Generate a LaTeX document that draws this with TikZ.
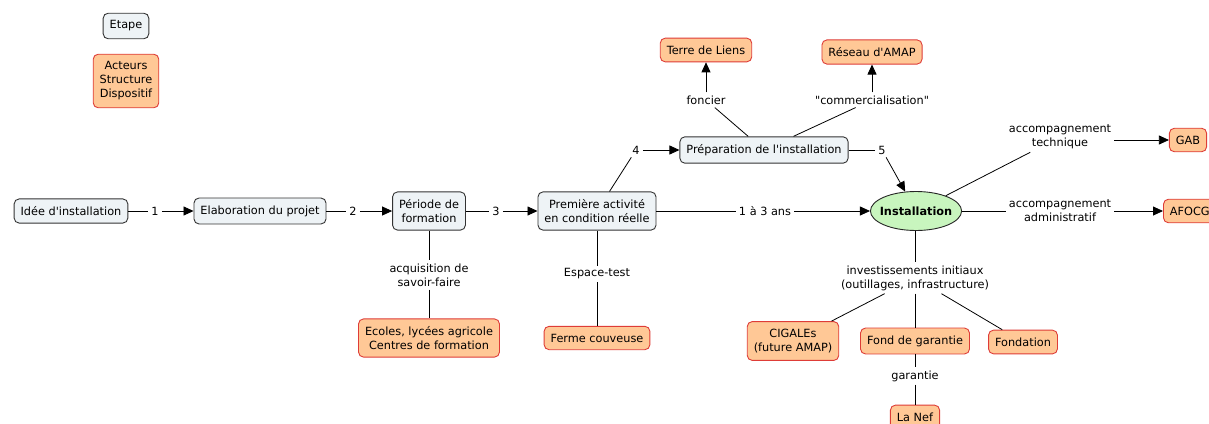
\documentclass[tikz,border=0pt]{standalone}
\usepackage{fontspec}
\setmainfont{DejaVu Sans}[Ligatures=TeXOff]
\usetikzlibrary{shapes.geometric,arrows.meta}
\definecolor{etapefill}{RGB}{238,243,246}
\definecolor{acteurfill}{RGB}{255,200,150}
\definecolor{acteurdraw}{RGB}{222,60,55}
\definecolor{installfill}{RGB}{200,245,190}

\begin{document}
\begin{tikzpicture}[x=1pt, y=-1pt,
    every node/.style={font=\fontsize{11.3}{14}\selectfont},
    etape/.style={draw=black!80, fill=etapefill, rounded corners=5pt, line width=0.9pt, align=center, inner xsep=6.5pt, inner ysep=7.5pt},
    acteur/.style={draw=acteurdraw, fill=acteurfill, rounded corners=5pt, line width=0.9pt, align=center, inner xsep=6.5pt, inner ysep=7.5pt},
    lien/.style={align=center, inner sep=3pt},
    trait/.style={line width=0.8pt},
    fleche/.style={line width=0.8pt, -{Triangle[length=10pt,width=9pt]}}]
        \useasboundingbox (0,0) rectangle (1209,423);

        \node[etape] (etape) at (126,26) {Etape};
        \node[acteur] (legende) at (126,81) {Acteurs\\Structure\\Dispositif};

        \node[etape] (idee) at (71,211) {Idée d'installation};
        \node[etape] (elab) at (260,211) {Elaboration du projet};
        \node[etape] (periode) at (429,211) {Période de\\formation};
        \node[etape] (premiere) at (597,211) {Première activité\\en condition réelle};
        \node[etape] (prep) at (764,150) {Préparation de l'installation};
        \node[ellipse, draw=black!85, fill=installfill, line width=0.9pt, minimum width=91pt, minimum height=39pt, inner xsep=-4pt, inner ysep=0pt, font=\fontsize{11.3}{14}\selectfont\bfseries] (inst) at (916,211) {Installation};

        \node[acteur] (terre) at (706,50) {Terre de Liens};
        \node[acteur] (reseau) at (872,52) {Réseau d'AMAP};
        \node[acteur] (gab) at (1188,140) {GAB};
        \node[acteur, anchor=west] (afocg) at (1163,211) {AFOCG};
        \node[acteur] (ecoles) at (429,338) {Ecoles, lycées agricole\\Centres de formation};
        \node[acteur] (ferme) at (597,338) {Ferme couveuse};
        \node[acteur] (cigales) at (793,341) {CIGALEs\\(future AMAP)};
        \node[acteur] (fond) at (915,341) {Fond de garantie};
        \node[acteur] (fondation) at (1023,342) {Fondation};
        \node[acteur] (nef) at (915,417) {La Nef};

        \node[lien] (l1) at (155,211) {1};
        \node[lien] (l2) at (353,211) {2};
        \node[lien] (l3) at (496,211) {3};
        \node[lien] (l4) at (636,150) {4};
        \node[lien] (l5) at (882,150) {5};
        \node[lien] (lfoncier) at (706,100) {foncier};
        \node[lien] (lcomm) at (872,100) {"commercialisation"};
        \node[lien] (lans) at (765,211) {1 à 3 ans};
        \node[lien] (ltech) at (1060,137) {accompagnement\\technique};
        \node[lien] (ladmin) at (1060,211) {accompagnement\\administratif};
        \node[lien] (linv) at (915,278) {investissements initiaux\\(outillages, infrastructure)};
        \node[lien] (lgar) at (915,376) {garantie};
        \node[lien] (lsavoir) at (429,275) {acquisition de\\savoir-faire};
        \node[lien] (lespace) at (597,274) {Espace-test};

        \draw[trait] (idee) -- (l1);
        \draw[fleche] (l1) -- (elab);
        \draw[trait] (elab) -- (l2);
        \draw[fleche] (l2) -- (periode);
        \draw[trait] (periode) -- (l3);
        \draw[fleche] (l3) -- (premiere);
        \draw[trait] (premiere) -- (l4);
        \draw[fleche] (l4) -- (prep);
        \draw[trait] (prep) -- (l5);
        \draw[fleche] (l5) -- (inst);
        \draw[trait] (premiere) -- (lans);
        \draw[fleche] (lans) -- (inst);

        \draw[trait] (prep) -- (lfoncier);
        \draw[fleche] (lfoncier) -- (terre);
        \draw[trait] (prep) -- (lcomm);
        \draw[fleche] (lcomm) -- (reseau);

        \draw[trait] (inst) -- (ltech);
        \draw[fleche] (ltech.east |- gab.west) -- (gab.west);
        \draw[trait] (inst) -- (ladmin);
        \draw[fleche] (ladmin) -- (afocg);

        \draw[trait] (inst.south -| linv) -- (linv);
        \draw[trait] (linv) -- (cigales);
        \draw[trait] (linv) -- (fond);
        \draw[trait] (linv) -- (fondation);
        \draw[trait] (fond) -- (lgar);
        \draw[trait] (lgar) -- (nef);

        \draw[trait] (periode) -- (lsavoir);
        \draw[trait] (lsavoir) -- (ecoles);
        \draw[trait] (premiere) -- (lespace);
        \draw[trait] (lespace) -- (ferme);

    \end{tikzpicture}
\end{document}
